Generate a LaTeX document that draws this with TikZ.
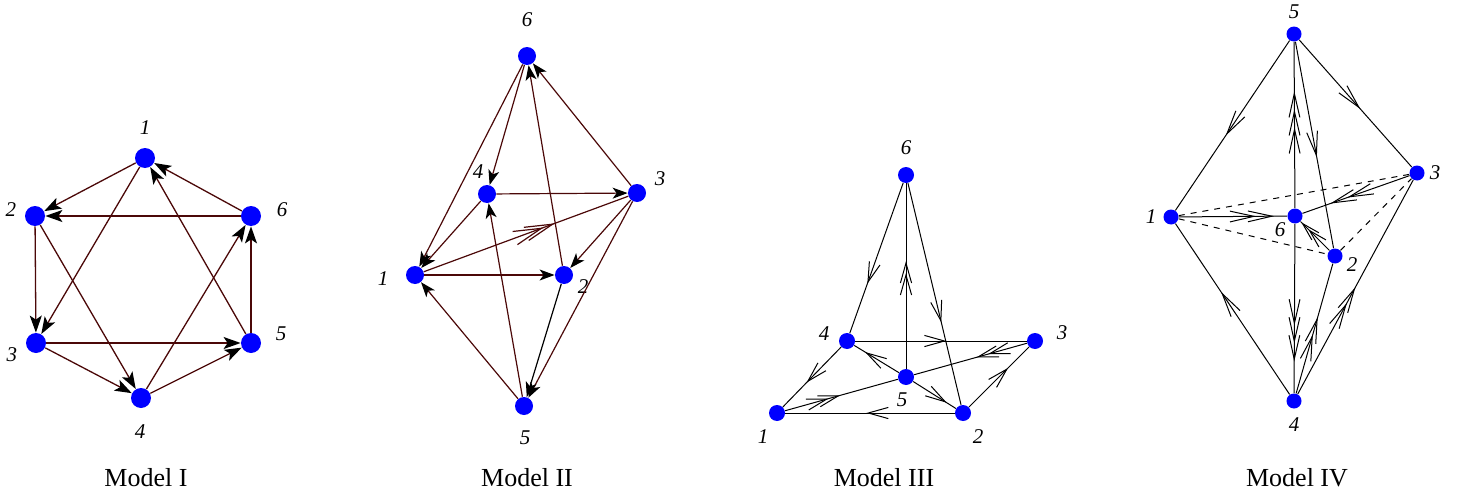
\documentclass[tikz,border=0pt]{standalone}
\usepackage{fontspec}
\setmainfont{Liberation Serif}
\usetikzlibrary{arrows.meta,decorations.markings}
\definecolor{dotblue}{RGB}{0,0,255}
\definecolor{edgebrown}{RGB}{75,8,8}
\def\cl{10pt}\def\cw{2.8pt}\def\cs{6pt}\def\clw{0.5pt}\def\ccol{black}
\newcommand\mychev[1]{\draw[solid,line width=\clw,draw=\ccol] ({#1-\cl},\cw) -- (#1,0pt) -- ({#1-\cl},-\cw);}
\tikzset{
  dotI/.style={circle,fill=dotblue,inner sep=0pt,minimum size=10pt},
  dotII/.style={circle,fill=dotblue,inner sep=0pt,minimum size=9pt},
  dotIII/.style={circle,fill=dotblue,inner sep=0pt,minimum size=8pt},
  dotIV/.style={circle,fill=dotblue,inner sep=0pt,minimum size=7.5pt},
  lab/.style={font=\fontsize{10.5}{12}\selectfont\itshape,inner sep=0pt},
  capt/.style={font=\fontsize{13}{15}\selectfont,inner sep=0pt},
  eI/.style={draw=edgebrown,line width=0.65pt,-{Stealth[length=8.5pt,width=6pt,inset=2pt,color=black]}},
  eII/.style={draw=edgebrown,line width=0.6pt,-{Stealth[length=7.5pt,width=5.5pt,inset=2pt,color=black]}},
  eIIk/.style={draw=black,line width=0.6pt,-{Stealth[length=7.5pt,width=5.5pt,inset=2pt,color=black]}},
  eplain/.style={draw=black,line width=0.5pt},
  onec/.style={postaction={decorate,decoration={markings,mark=at position #1 with {\mychev{0pt}}}}},
  twoc/.style={postaction={decorate,decoration={markings,mark=at position #1 with {\mychev{0pt}\mychev{-\cs}}}}},
  threec/.style={postaction={decorate,decoration={markings,mark=at position #1 with {\mychev{0pt}\mychev{-\cs}\mychev{-2*\cs}}}}},
}
\begin{document}
\begin{tikzpicture}[x=0.5pt,y=-0.5pt]
\useasboundingbox (0,0) rectangle (1458,498);
% ---------------- Model I ----------------
\node[dotI] (a1) at (145,158) {};
\node[dotI] (a2) at (35,216) {};
\node[dotI] (a6) at (251,216) {};
\node[dotI] (a3) at (36,343) {};
\node[dotI] (a5) at (251,343) {};
\node[dotI] (a4) at (141,398) {};
\node[lab] (la1) at (145,128) {1};
\node[lab] (la2) at (11,210) {2};
\node[lab] (la6) at (282,210) {6};
\node[lab] (la3) at (12,355) {3};
\node[lab] (la5) at (281,334) {5};
\node[lab] (la4) at (140,432) {4};
\draw[eI] (a1) -- (a2);
\draw[eI] (a1) -- (a3);
\draw[eI] (a6) -- (a1);
\draw[eI] (a5) -- (a1);
\draw[eI] (a6) -- (a2);
\draw[eI] (a2) -- (a3);
\draw[eI] (a2) -- (a4);
\draw[eI] (a3) -- (a5);
\draw[eI] (a3) -- (a4);
\draw[eI] (a4) -- (a6);
\draw[eI] (a4) -- (a5);
\draw[eI] (a5) -- (a6);
\node[capt] (capI) at (146,478) {Model I};
% ---------------- Model II ----------------
\node[dotII] (b6) at (527,56) {};
\node[dotII] (b4) at (487,194) {};
\node[dotII] (b3) at (637,193) {};
\node[dotII] (b1) at (415,275) {};
\node[dotII] (b2) at (564,275) {};
\node[dotII] (b5) at (524,406) {};
\node[lab] (lb6) at (527,20) {6};
\node[lab] (lb4) at (478,172) {4};
\node[lab] (lb3) at (660,179) {3};
\node[lab] (lb1) at (383,279) {1};
\node[lab] (lb2) at (583,287) {2};
\node[lab] (lb5) at (525,438) {5};
\draw[eII] (b6) -- (b1);
\draw[eII] (b6) -- (b4);
\draw[eII] (b3) -- (b6);
\draw[eII] (b2) -- (b6);
\draw[eII] (b4) -- (b3);
\draw[eII] (b4) -- (b1);
\begingroup\def\cl{14pt}\def\cw{3.5pt}\def\cs{6pt}\def\clw{0.6pt}\def\ccol{edgebrown}
\draw[draw=edgebrown,line width=0.6pt,twoc=0.63] (b1) -- (b3);
\endgroup
\draw[eII] (b1) -- (b2);
\draw[eII] (b3) -- (b2);
\draw[eII] (b3) -- (b5);
\draw[eIIk] (b2) -- (b5);
\draw[eII] (b5) -- (b1);
\draw[eII] (b5) -- (b4);
\node[capt] (capII) at (527,478) {Model II};
% ---------------- Model III ----------------
\node[dotIII] (c6) at (906,175) {};
\node[dotIII] (c4) at (847,341) {};
\node[dotIII] (c3) at (1035,341) {};
\node[dotIII] (c5) at (906,377) {};
\node[dotIII] (c1) at (777,413) {};
\node[dotIII] (c2) at (963,413) {};
\node[lab] (lc6) at (906,148) {6};
\node[lab] (lc4) at (824,334) {4};
\node[lab] (lc3) at (1062,333) {3};
\node[lab] (lc5) at (902,400) {5};
\node[lab] (lc1) at (763,437) {1};
\node[lab] (lc2) at (978,437) {2};
\draw[eplain,onec=0.66] (c6) -- (c4);
\draw[eplain,twoc=0.57] (c5) -- (c6);
\draw[eplain,onec=0.62] (c6) -- (c2);
\draw[eplain,onec=0.52] (c4) -- (c3);
\draw[eplain,onec=0.72] (c5) -- (c4);
\draw[eplain,onec=0.57] (c4) -- (c1);
\draw[eplain,twoc=0.43] (c3) -- (c5);
\draw[eplain,twoc=0.47] (c1) -- (c5);
\draw[eplain,onec=0.75] (c5) -- (c2);
\draw[eplain,onec=0.51] (c2) -- (c1);
\draw[eplain,onec=0.63] (c2) -- (c3);
\node[capt] (capIII) at (884,478) {Model III};
% ---------------- Model IV ----------------
\node[dotIV] (d5) at (1294,34) {};
\node[dotIV] (d3) at (1417,173) {};
\node[dotIV] (d1) at (1171,217) {};
\node[dotIV] (d6) at (1295,216) {};
\node[dotIV] (d2) at (1335,256) {};
\node[dotIV] (d4) at (1294,401) {};
\node[lab] (ld5) at (1294,12) {5};
\node[lab] (ld3) at (1435,173) {3};
\node[lab] (ld1) at (1151,217) {1};
\node[lab] (ld6) at (1280,230) {6};
\node[lab] (ld2) at (1352,265) {2};
\node[lab] (ld4) at (1294,425) {4};
\begingroup\def\cl{12pt}\def\cw{2.7pt}\def\cs{9pt}
\draw[eplain,onec=0.55] (d5) -- (d1);
\draw[eplain,onec=0.53] (d5) -- (d3);
\draw[eplain,threec=0.69] (d6) -- (d5);
\draw[eplain,onec=0.55] (d5) -- (d2);
\draw[eplain,twoc=0.86] (d1) -- (d6);
\draw[eplain,twoc=0.72] (d3) -- (d6);
\draw[eplain,dashed] (d1) -- (d3);
\draw[eplain,dashed] (d1) -- (d2);
\draw[eplain,dashed] (d2) -- (d3);
\draw[eplain,threec=0.80] (d6) -- (d4);
\draw[eplain,onec=0.59] (d4) -- (d1);
\draw[eplain,twoc=0.57] (d4) -- (d2);
\draw[eplain,twoc=0.49] (d4) -- (d3);
\endgroup
\begingroup\def\cl{9pt}\def\cw{2.5pt}\def\cs{5pt}
\draw[eplain,twoc=0.93] (d2) -- (d6);
\endgroup
\node[capt] (capIV) at (1297,478) {Model IV};
\end{tikzpicture}
\end{document}
